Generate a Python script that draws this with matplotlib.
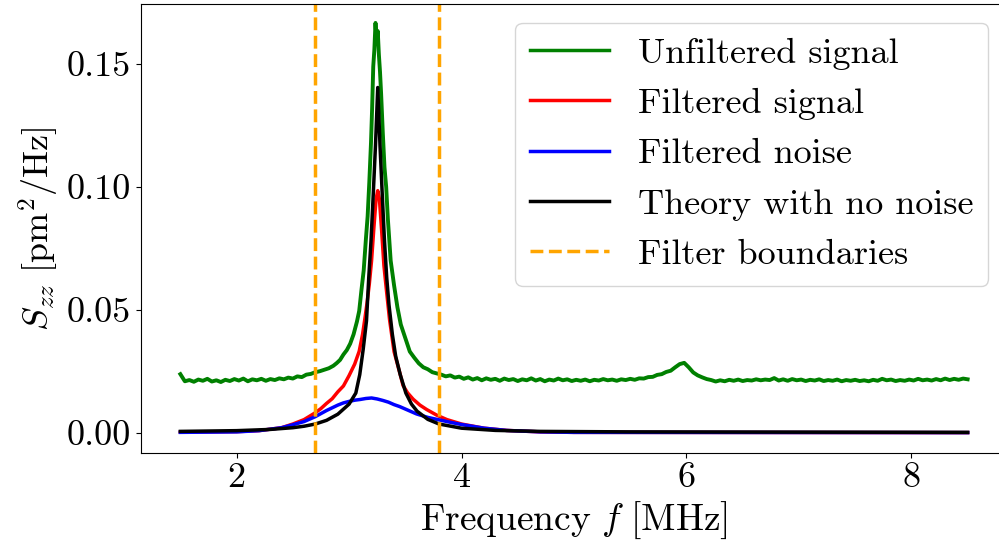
import numpy as np
import matplotlib
matplotlib.use("Agg")
import matplotlib.pyplot as plt

plt.rcParams['font.family'] = 'serif'
plt.rcParams['font.serif'] = ['cmr10']
plt.rcParams['mathtext.fontset'] = 'cm'
plt.rcParams['axes.formatter.use_mathtext'] = True
plt.rcParams['axes.unicode_minus'] = False

# ---------------- data ----------------
green_f = [
    1.50, 1.54, 1.58, 1.62, 1.66, 1.70, 1.74, 1.78,
    1.82, 1.86, 1.90, 1.94, 1.98, 2.02, 2.06, 2.10,
    2.14, 2.18, 2.22, 2.26, 2.30, 2.34, 2.38, 2.42,
    2.46, 2.50, 2.54, 2.58, 2.62, 2.66, 2.70,
    2.74, 2.78, 2.82, 2.86, 2.89, 2.92, 2.95, 2.98,
    3.01, 3.04, 3.07, 3.09, 3.11, 3.13, 3.15, 3.165,
    3.18, 3.195, 3.205, 3.215, 3.225, 3.235, 3.245, 3.255,
    3.265, 3.275, 3.285, 3.30, 3.315, 3.33, 3.345, 3.37,
    3.40, 3.43, 3.46, 3.50, 3.54, 3.58, 3.62, 3.66,
    3.70, 3.74, 3.78,
    3.82, 3.86, 3.90, 3.94, 3.98, 4.02, 4.06, 4.10,
    4.14, 4.18, 4.22, 4.26, 4.30, 4.34, 4.38, 4.42,
    4.46, 4.50, 4.54, 4.58, 4.62, 4.66, 4.70, 4.74,
    4.78, 4.82, 4.86, 4.90, 4.94, 4.98, 5.02, 5.06,
    5.10, 5.14, 5.18, 5.22, 5.26, 5.30, 5.34, 5.38,
    5.42, 5.46, 5.50, 5.54, 5.58, 5.62, 5.66, 5.70,
    5.74, 5.78, 5.82, 5.86, 5.90, 5.94, 5.98, 6.02,
    6.06, 6.10, 6.14, 6.18, 6.22, 6.26, 6.30, 6.34,
    6.38, 6.42, 6.46, 6.50, 6.54, 6.58, 6.62, 6.66,
    6.70, 6.74, 6.78, 6.82, 6.86, 6.90, 6.94, 6.98,
    7.02, 7.06, 7.10, 7.14, 7.18, 7.22, 7.26, 7.30,
    7.34, 7.38, 7.42, 7.46, 7.50, 7.54, 7.58, 7.62,
    7.66, 7.70, 7.74, 7.78, 7.82, 7.86, 7.90, 7.94,
    7.98, 8.02, 8.06, 8.10, 8.14, 8.18, 8.22, 8.26,
    8.30, 8.34, 8.38, 8.42, 8.46, 8.50,
]
green_s = [
    0.0238, 0.0209, 0.0214, 0.0207, 0.0216, 0.0211, 0.0219, 0.0208,
    0.0213, 0.0206, 0.0215, 0.0210, 0.0218, 0.0212, 0.0220, 0.0209,
    0.0217, 0.0213, 0.0219, 0.0211, 0.0218, 0.0214, 0.0221, 0.0217,
    0.0224, 0.0220, 0.0229, 0.0226, 0.0236, 0.0239, 0.0246,
    0.0250, 0.0256, 0.0262, 0.0272, 0.0283, 0.0296, 0.0318, 0.0336,
    0.0362, 0.0400, 0.0452, 0.0495, 0.0580, 0.0660, 0.0790, 0.0880,
    0.1020, 0.1180, 0.1320, 0.1490, 0.1560, 0.1668, 0.1595, 0.1635,
    0.1540, 0.1470, 0.1380, 0.1220, 0.1080, 0.1000, 0.0870, 0.0700,
    0.0600, 0.0510, 0.0440, 0.0385, 0.0330, 0.0305, 0.0282, 0.0266,
    0.0258, 0.0246, 0.0241,
    0.0236, 0.0229, 0.0233, 0.0224, 0.0228, 0.0219, 0.0225, 0.0216,
    0.0222, 0.0213, 0.0221, 0.0215, 0.0219, 0.0211, 0.0220, 0.0214,
    0.0218, 0.0210, 0.0217, 0.0213, 0.0221, 0.0212, 0.0218, 0.0209,
    0.0216, 0.0212, 0.0220, 0.0213, 0.0217, 0.0210, 0.0215, 0.0211,
    0.0216, 0.0209, 0.0215, 0.0212, 0.0218, 0.0213, 0.0216, 0.0211,
    0.0217, 0.0214, 0.0219, 0.0215, 0.0221, 0.0220, 0.0226, 0.0227,
    0.0235, 0.0238, 0.0247, 0.0252, 0.0266, 0.0279, 0.0284, 0.0266,
    0.0245, 0.0233, 0.0225, 0.0218, 0.0214, 0.0208, 0.0213, 0.0209,
    0.0215, 0.0211, 0.0216, 0.0210, 0.0214, 0.0212, 0.0217, 0.0213,
    0.0216, 0.0214, 0.0222, 0.0212, 0.0217, 0.0211, 0.0218, 0.0213,
    0.0216, 0.0210, 0.0215, 0.0212, 0.0217, 0.0210, 0.0214, 0.0211,
    0.0216, 0.0209, 0.0214, 0.0211, 0.0215, 0.0210, 0.0213, 0.0209,
    0.0215, 0.0211, 0.0219, 0.0213, 0.0216, 0.0210, 0.0214, 0.0211,
    0.0216, 0.0212, 0.0219, 0.0213, 0.0216, 0.0212, 0.0218, 0.0213,
    0.0220, 0.0214, 0.0219, 0.0215, 0.0220, 0.0217,
]

red_f = [1.50, 2.00, 2.20, 2.40, 2.50, 2.60, 2.70, 2.75, 2.80, 2.85, 2.90,
         2.95, 3.00, 3.05, 3.09, 3.12, 3.14, 3.16, 3.18, 3.20, 3.22, 3.24,
         3.255, 3.27, 3.29, 3.31, 3.33, 3.36, 3.40, 3.45, 3.48, 3.52, 3.57,
         3.63, 3.69, 3.78, 3.87, 4.00, 4.20, 4.40, 4.70, 5.00, 8.50]
red_s = [0.0002, 0.0004, 0.0008, 0.0020, 0.0035, 0.0053, 0.0081, 0.0098,
         0.0119, 0.0138, 0.0166, 0.0190, 0.0232, 0.0279, 0.0331, 0.0400,
         0.0462, 0.0528, 0.0605, 0.0700, 0.0830, 0.0950, 0.0985, 0.0950,
         0.0820, 0.0680, 0.0590, 0.0460, 0.0330, 0.0245, 0.0192, 0.0162,
         0.0136, 0.0112, 0.0094, 0.0071, 0.0053, 0.0035, 0.0018, 0.0009,
         0.0003, 0.0001, 0.0000]

blue_f = [1.50, 2.00, 2.20, 2.40, 2.50, 2.60, 2.70, 2.80, 2.90, 2.95, 3.00,
          3.05, 3.10, 3.15, 3.20, 3.25, 3.30, 3.35, 3.40, 3.45, 3.50, 3.60,
          3.70, 3.80, 3.90, 4.00, 4.20, 4.40, 4.70, 5.00, 8.50]
blue_s = [0.0001, 0.0003, 0.0008, 0.0020, 0.0032, 0.0045, 0.0065, 0.0090,
          0.0112, 0.0121, 0.0127, 0.0132, 0.0135, 0.0139, 0.0141, 0.0137,
          0.0131, 0.0124, 0.0114, 0.0106, 0.0096, 0.0076, 0.0062, 0.0052,
          0.0042, 0.0033, 0.0018, 0.0009, 0.0003, 0.0001, 0.0000]

theory_f = [1.50, 2.00, 2.30, 2.50, 2.60, 2.70, 2.80, 2.90, 3.00, 3.06, 3.095,
            3.125, 3.155, 3.175, 3.195, 3.215, 3.235, 3.255, 3.275, 3.295,
            3.315, 3.335, 3.355, 3.385, 3.415, 3.455, 3.505, 3.555, 3.605,
            3.70, 3.80, 4.00, 4.30, 4.70, 5.50, 7.00, 8.50]
theory_s = [0.0005, 0.0008, 0.0013, 0.0020, 0.0026, 0.0035, 0.0050, 0.0075,
            0.0116, 0.0161, 0.0236, 0.0337, 0.0455, 0.0630, 0.0780, 0.0970,
            0.1170, 0.1405, 0.1170, 0.0970, 0.0780, 0.0630, 0.0520, 0.0400,
            0.0310, 0.0236, 0.0161, 0.0116, 0.0087, 0.0054, 0.0035, 0.0018,
            0.0009, 0.0005, 0.0003, 0.0002, 0.0001]

filter_bounds = [2.7, 3.8]

labels = ["Unfiltered signal", "Filtered signal", "Filtered noise",
          "Theory with no noise", "Filter boundaries"]

# ---------------- figure ----------------
W, H = 999, 553
fig = plt.figure(figsize=(W / 100, H / 100), dpi=100)
ax = fig.add_axes([141 / W, 100 / H, 866 / W, 449 / H])

lw = 2.5
ax.plot(green_f, green_s, color='green', lw=2.8, label=labels[0])
ax.plot(red_f, red_s, color='red', lw=lw, label=labels[1])
ax.plot(blue_f, blue_s, color='blue', lw=lw, label=labels[2])
ax.plot(theory_f, theory_s, color='black', lw=lw, label=labels[3])
for i, fb in enumerate(filter_bounds):
    ax.axvline(fb, color='orange', ls='--', lw=lw,
               label=labels[4] if i == 0 else None)

ax.set_xlim(1.15, 8.85)
ax.set_ylim(-0.0083, 0.1745)
ax.set_xticks([2, 4, 6, 8])
ax.set_yticks([0.0, 0.05, 0.10, 0.15])
ax.set_yticklabels(["0.00", "0.05", "0.10", "0.15"])
fs = 26
ax.tick_params(labelsize=fs)
ax.set_xlabel(r'$\mathrm{Frequency}\ f\ [\mathrm{MHz}]$', fontsize=fs + 1)
ax.set_ylabel(r'$S_{zz}\ [\mathrm{pm}^2/\mathrm{Hz}]$', fontsize=fs)

leg = ax.legend(loc='upper right', bbox_to_anchor=(988 / W, 1 - 23 / H),
                bbox_transform=fig.transFigure, borderaxespad=0, fontsize=fs,
                handlelength=2.2)
for h in leg.get_lines():
    h.set_linewidth(2.5)

fig.savefig('out.png', dpi=100)
